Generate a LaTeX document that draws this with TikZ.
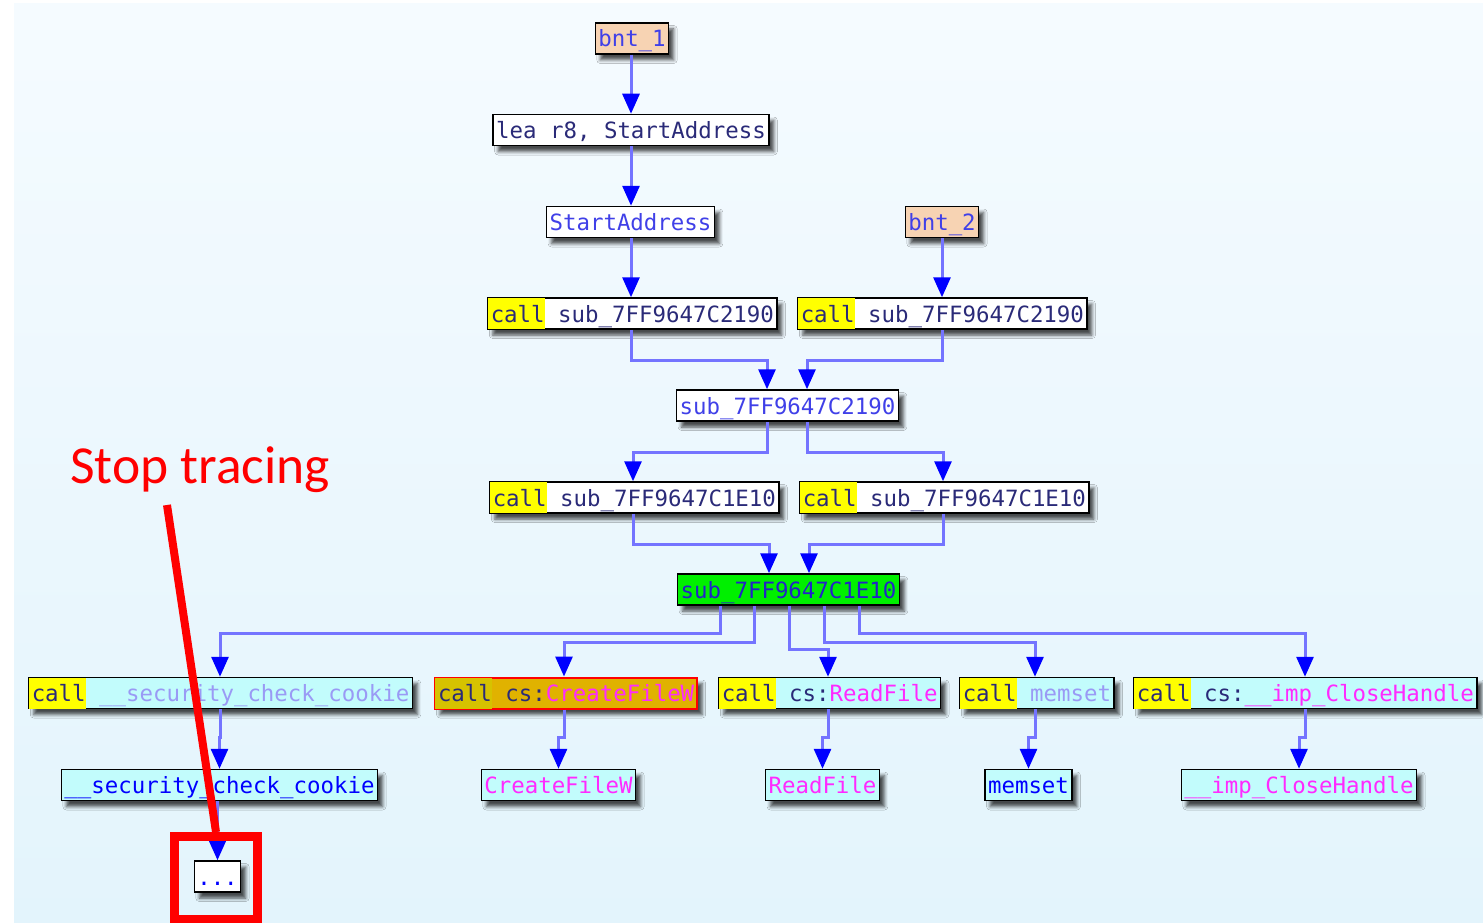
\documentclass[tikz,border=0pt]{standalone}
\usepackage{fontspec}
\setmonofont{DejaVu Sans Mono}
\newfontfamily\notefont{Carlito}
\usetikzlibrary{arrows.meta,shadows.blur}

\definecolor{bgtop}{HTML}{F5FBFF}
\definecolor{bgbot}{HTML}{E3F4FC}
\definecolor{peach}{HTML}{F7D3B3}
\definecolor{callyel}{HTML}{FFFF00}
\definecolor{extcyan}{HTML}{C2FCFC}
\definecolor{hotgreen}{HTML}{00F000}
\definecolor{gold}{HTML}{E0B200}
\definecolor{goldcall}{HTML}{D6C200}
\definecolor{navy}{HTML}{2A2A78}
\definecolor{locblue}{HTML}{4040E8}
\definecolor{greentext}{HTML}{2323C8}
\definecolor{paleviolet}{HTML}{9A9AF5}
\definecolor{impmag}{HTML}{FF2AFF}
\definecolor{wireblue}{HTML}{7474FF}
\definecolor{tipblue}{HTML}{0000FF}
\definecolor{stopred}{HTML}{FF0000}

% full-height strut of a code line and the side padding
\newcommand{\bstrut}{\rule[-7pt]{0pt}{31pt}}
\newcommand{\pad}{\hspace*{3pt}}
\newcommand{\codefont}{\ttfamily\fontsize{22.4pt}{26pt}\selectfont}
% highlighted "call" mnemonic
\newcommand{\callop}[1][callyel]{{\setlength{\fboxsep}{0pt}\colorbox{#1}{\bstrut\pad\textcolor{navy}{call}}}}

\tikzset{
  codebox/.style={draw=black, line width=1.5pt, inner sep=0pt, fill=white,
    font=\codefont,
    blur shadow={shadow xshift=5pt, shadow yshift=-6pt, shadow blur radius=3.5pt, shadow opacity=70}},
  locbox/.style={codebox, text=locblue},
  entrybox/.style={codebox, fill=peach, text=locblue},
  extbox/.style={codebox, fill=extcyan},
  flow/.style={draw=wireblue, line width=3pt, line join=miter,
    -{Triangle[length=20pt,width=17pt,color=tipblue]}},
}

\begin{document}
\begin{tikzpicture}[x=1pt,y=-1pt]
  \useasboundingbox (0,0) rectangle (1483,923);
  \fill[white] (0,0) rectangle (1483,923);
  \shade[top color=bgtop, bottom color=bgbot] (14,4) rectangle (1483,923);

  % column positions of the connectors
  \coordinate (x631) at (631,0);
  \coordinate (x942) at (942,0);
  \coordinate (x767) at (767,0);
  \coordinate (x807) at (807,0);
  \coordinate (x633) at (633,0);
  \coordinate (x943) at (943,0);
  \coordinate (x769) at (769,0);
  \coordinate (x809) at (809,0);
  \coordinate (x720) at (720,0);
  \coordinate (x754) at (754,0);
  \coordinate (x789) at (789,0);
  \coordinate (x824) at (824,0);
  \coordinate (x859) at (859,0);
  \coordinate (x220) at (220,0);
  \coordinate (x564) at (564,0);
  \coordinate (x828) at (828,0);
  \coordinate (x1035) at (1035,0);
  \coordinate (x1305) at (1305,0);

  % code blocks
  \node[entrybox] (b1) at (632,38.5) {\bstrut\pad bnt\_1\pad};
  \node[codebox, text=navy] (lea) at (631,130) {\bstrut\pad lea r8, StartAddress\pad};
  \node[locbox] (sa) at (630.5,222) {\bstrut\pad StartAddress\pad};
  \node[entrybox] (b2) at (942,222) {\bstrut\pad bnt\_2\pad};

  \node[codebox, anchor=west] (cl1) at (487,313.5) {\callop\ \textcolor{navy}{sub\_7FF9647C2190}\pad};
  \node[codebox, anchor=west] (cr1) at (797,313.5) {\callop\ \textcolor{navy}{sub\_7FF9647C2190}\pad};
  \node[locbox] (s2190) at (787.5,405.5) {\bstrut\pad sub\_7FF9647C2190\pad};

  \node[codebox, anchor=west] (cl2) at (489,497.5) {\callop\ \textcolor{navy}{sub\_7FF9647C1E10}\pad};
  \node[codebox, anchor=west] (cr2) at (799,497.5) {\callop\ \textcolor{navy}{sub\_7FF9647C1E10}\pad};
  \node[codebox, fill=hotgreen, text=greentext] (g) at (788.5,589.5) {\bstrut\pad sub\_7FF9647C1E10\pad};

  \node[extbox, anchor=west] (k1) at (28,693) {\callop\ \textcolor{paleviolet}{\_\_security\_check\_cookie}\pad};
  \node[codebox, anchor=west, fill=gold, draw=stopred, line width=2pt] (k2) at (434,693)
    {\callop[goldcall]\ \textcolor{navy}{cs:}\textcolor{impmag}{CreateFileW}\pad};
  \node[extbox, anchor=west] (k3) at (718,693) {\callop\ \textcolor{navy}{cs:}\textcolor{impmag}{ReadFile}\pad};
  \node[extbox, anchor=west] (k4) at (959,693) {\callop\ \textcolor{paleviolet}{memset}\pad};
  \node[extbox, anchor=west] (k5) at (1133,693) {\callop\ \textcolor{navy}{cs:}\textcolor{impmag}{\_\_imp\_CloseHandle}\pad};

  \node[extbox, text=tipblue] (t1) at (219.5,785) {\bstrut\pad\_\_security\_check\_cookie\pad};
  \node[extbox, text=impmag] (t2) at (558.5,785) {\bstrut\pad CreateFileW\pad};
  \node[extbox, text=impmag] (t3) at (822.5,785) {\bstrut\pad ReadFile\pad};
  \node[extbox, text=tipblue] (t4) at (1028.5,785) {\bstrut\pad memset\pad};
  \node[extbox, text=impmag] (t5) at (1299,785) {\bstrut\pad\_\_imp\_CloseHandle\pad};

  \node[codebox, text=tipblue] (dots) at (217.5,876.5) {\bstrut\pad...\pad};

  % control flow
  \draw[flow] (b1.south -| x631) -- (lea.north -| x631);
  \draw[flow] (lea.south -| x631) -- (sa.north -| x631);
  \draw[flow] (sa.south -| x631) -- (cl1.north -| x631);
  \draw[flow] (b2.south -| x942) -- (cr1.north -| x942);

  \draw[flow] (cl1.south -| x631) -- ++(0,31) -| (s2190.north -| x767);
  \draw[flow] (cr1.south -| x942) -- ++(0,31) -| (s2190.north -| x807);
  \draw[flow] (s2190.south -| x767) -- ++(0,31) -| (cl2.north -| x633);
  \draw[flow] (s2190.south -| x807) -- ++(0,31) -| (cr2.north -| x943);
  \draw[flow] (cl2.south -| x633) -- ++(0,31) -| (g.north -| x769);
  \draw[flow] (cr2.south -| x943) -- ++(0,31) -| (g.north -| x809);

  \draw[flow] (g.south -| x720) -- ++(0,28) -| (k1.north -| x220);
  \draw[flow] (g.south -| x754) -- ++(0,37) -| (k2.north -| x564);
  \draw[flow] (g.south -| x789) -- ++(0,44) -| (k3.north -| x828);
  \draw[flow] (g.south -| x824) -- ++(0,37) -| (k4.north -| x1035);
  \draw[flow] (g.south -| x859) -- ++(0,28) -| (k5.north -| x1305);

  \draw[flow] (k1.south -| x220) -- ++(0,28) -| (t1.north);
  \draw[flow] (k2.south -| x564) -- ++(0,28) -| (t2.north);
  \draw[flow] (k3.south -| x828) -- ++(0,28) -| (t3.north);
  \draw[flow] (k4.south -| x1035) -- ++(0,28) -| (t4.north);
  \draw[flow] (k5.south -| x1305) -- ++(0,28) -| (t5.north);
  \draw[flow] (t1.south -| dots.north) -- (dots.north);

  % annotation
  \node[anchor=base west, inner sep=0pt, text=stopred, font=\notefont\fontsize{53.5pt}{62pt}\selectfont]
    (note) at (70,483) {Stop tracing};
  \node[draw=stopred, line width=9pt, inner sep=0pt, minimum width=83pt, minimum height=82.5pt]
    (stopbox) at (216,877.75) {};
  \coordinate (tail) at (167,505);
  \draw[stopred, line width=8pt] (tail) -- (stopbox.north);
\end{tikzpicture}
\end{document}
